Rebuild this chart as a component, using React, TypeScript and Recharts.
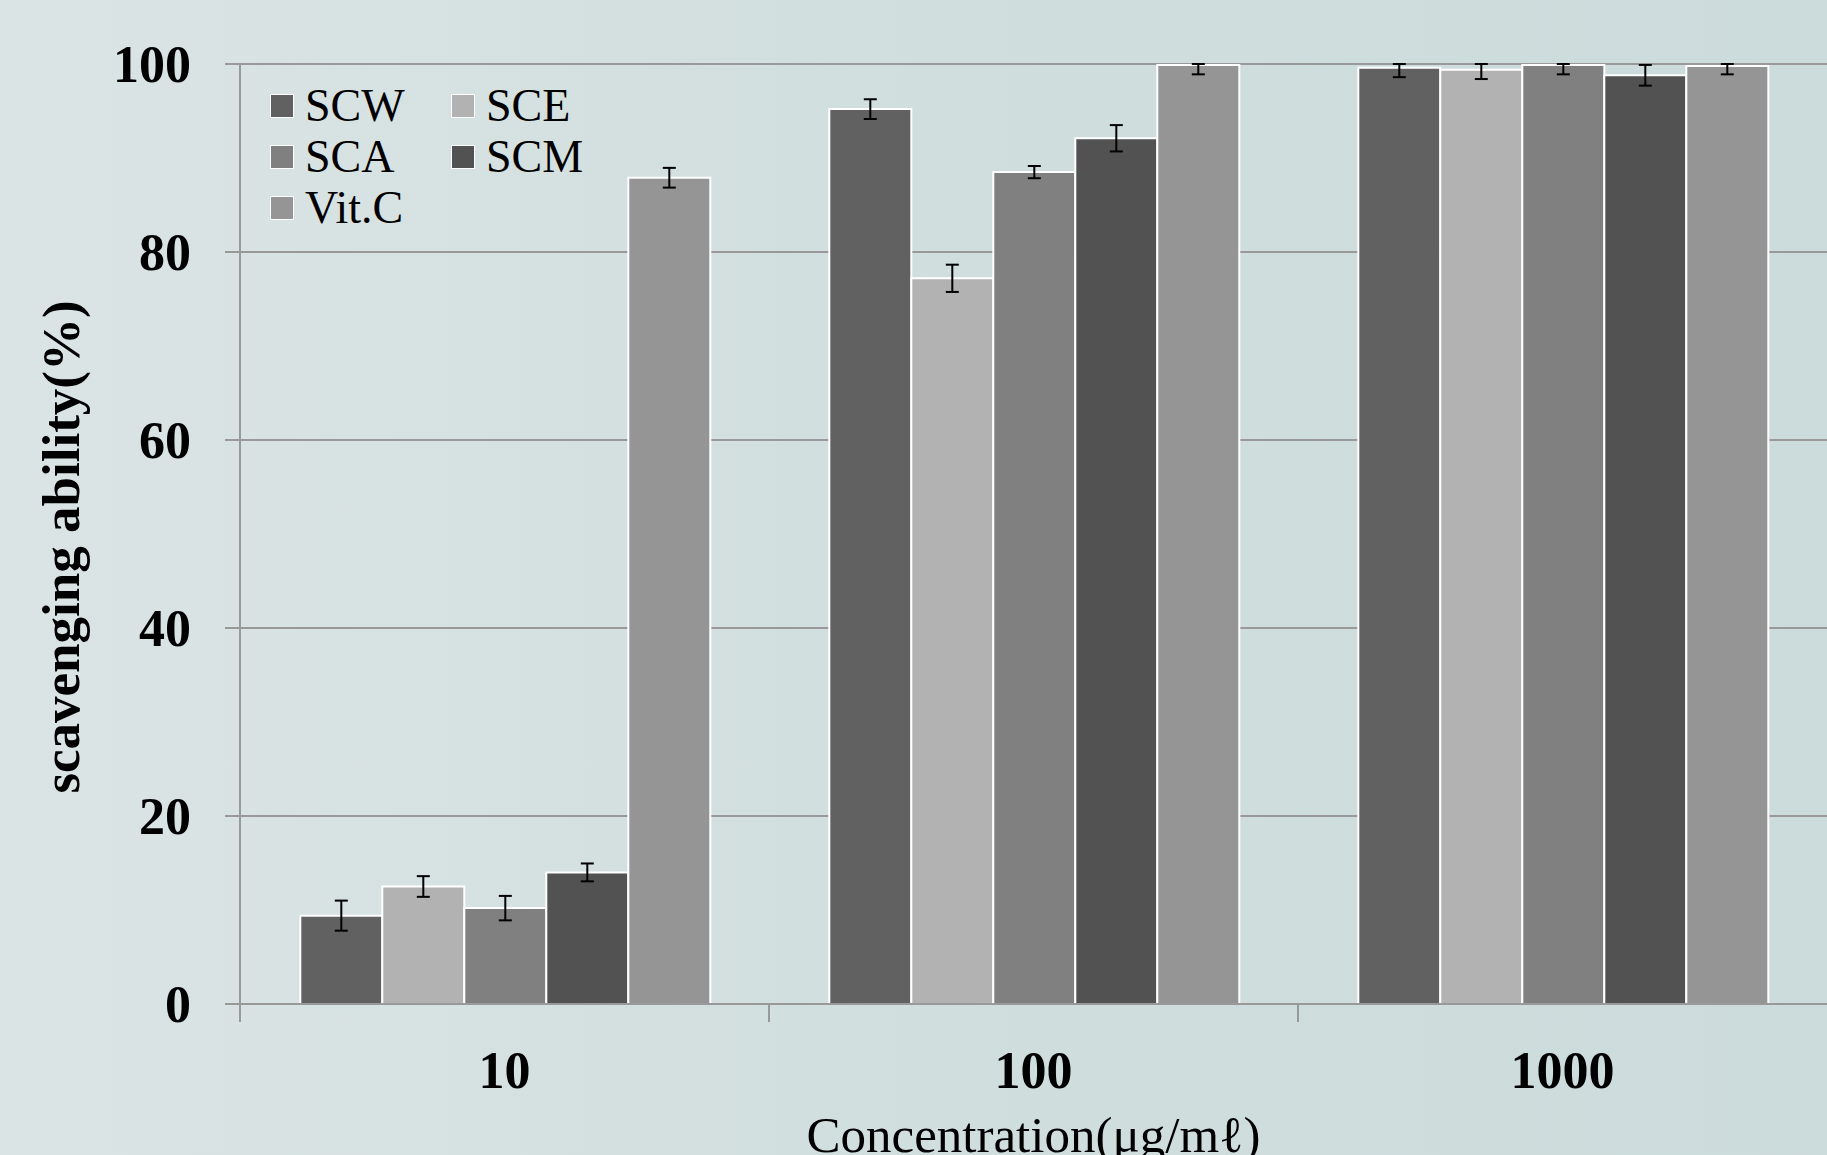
import React from 'react';
import { BarChart, Bar, XAxis, YAxis, CartesianGrid, ErrorBar, Legend, Label } from 'recharts';

const categories = ['10', '100', '1000'];
const seriesKeys = ['SCW', 'SCE', 'SCA', 'SCM', 'VitC'];
const seriesNames = ['SCW', 'SCE', 'SCA', 'SCM', 'Vit.C'];
const seriesColors = ['#616161', '#b2b2b2', '#808080', '#525252', '#959595'];

const SCW = [9.4, 95.2, 99.6];
const SCW_err = [1.6, 1.05, 1.0];
const SCE = [12.5, 77.2, 99.4];
const SCE_err = [1.1, 1.45, 1.0];
const SCA = [10.2, 88.5, 99.9];
const SCA_err = [1.3, 0.65, 1.0];
const SCM = [14.0, 92.1, 98.8];
const SCM_err = [0.95, 1.4, 1.1];
const VitC = [87.9, 99.9, 99.8];
const VitC_err = [1.05, 1.0, 0.9];

const yTicks = [0, 20, 40, 60, 80, 100];
const Y_MAX = 100;

const valuesByKey: Record<string, number[]> = { SCW, SCE, SCA, SCM, VitC };
const errsByKey: Record<string, number[]> = { SCW: SCW_err, SCE: SCE_err, SCA: SCA_err, SCM: SCM_err, VitC: VitC_err };

// error bars are cut at the top of the plot, as in the reference
const data = categories.map((c, i) => {
  const row: any = { cat: c };
  seriesKeys.forEach((k) => {
    const v = valuesByKey[k][i];
    const e = errsByKey[k][i];
    row[k] = v;
    row[`${k}_err`] = [e, Math.max(0, Math.min(e, Y_MAX - v))];
  });
  return row;
});

const FONT = '"Liberation Serif", "Times New Roman", serif';

const XTick = (props: any) => {
  const { x, y, payload } = props;
  const half = payload && payload.offset ? payload.offset : 0;
  return (
    <g>
      <line x1={x - half} y1={y} x2={x - half} y2={y + 18} stroke="#999" strokeWidth={2} />
      <text x={x} y={y + 66} dy="0.355em" textAnchor="middle" fontFamily={FONT} fontWeight="bold" fontSize={52} fill="#000">
        {payload.value}
      </text>
    </g>
  );
};

const LegendContent = () => {
  const order = [0, 1, 2, 3, 4];
  return (
    <div style={{ display: 'grid', gridTemplateColumns: '181px 160px', rowGap: 0, fontFamily: FONT, fontSize: 46, color: '#000' }}>
      {order.map((i) => (
        <div key={seriesKeys[i]} style={{ display: 'flex', alignItems: 'center', height: 51, lineHeight: '51px' }}>
          <span style={{ display: 'inline-block', width: 22, height: 22, background: seriesColors[i], border: '1.5px solid #fff', marginRight: 11 }} />
          <span>{seriesNames[i]}</span>
        </div>
      ))}
    </div>
  );
};

export default function App() {
  return (
    <div style={{ position: 'fixed', left: 0, top: 0, width: 1827, height: 1155, overflow: 'hidden', background: 'linear-gradient(90deg, #dbe4e4 0%, #d4e0e0 35%, #cfdddd 60%, #ccdbdb 100%)' }}>
      <BarChart width={1827} height={1155} data={data} margin={{ top: 64, right: 0, left: 0, bottom: 51 }} barCategoryGap="11.4%" barGap={0}>
        <CartesianGrid vertical={false} stroke="#999" strokeWidth={2} />
        <XAxis dataKey="cat" height={100} tickSize={0} tickMargin={0} tickLine={false} tick={<XTick />} axisLine={{ stroke: '#999', strokeWidth: 2 }} interval={0}>
          <Label content={(p: any) => {
            const vb = p.viewBox || {};
            const cx = (vb.x || 0) + (vb.width || 0) / 2;
            return (
              <text x={cx} y={1152} textAnchor="middle" fontFamily={FONT} fontSize={51} fill="#000">
                Concentration(μg/mℓ)
              </text>
            );
          }} />
        </XAxis>
        <YAxis width={240} domain={[0, 100]} ticks={yTicks} allowDataOverflow tickSize={15} tickMargin={34} tickLine={{ stroke: '#999', strokeWidth: 2 }} axisLine={{ stroke: '#999', strokeWidth: 2 }} tick={{ fontFamily: FONT, fontWeight: 'bold', fontSize: 52, fill: '#000' }}>
          <Label content={() => (
            <text x={61} y={547} transform="rotate(-90 61 547)" textAnchor="middle" dominantBaseline="central" fontFamily={FONT} fontWeight="bold" fontSize={53} fill="#000">
              scavenging ability(%)
            </text>
          )} />
        </YAxis>
        <Legend layout="vertical" align="center" verticalAlign="middle" content={<LegendContent />} wrapperStyle={{ position: 'absolute', left: 270, top: 80, width: 360 }} />
        {seriesKeys.map((k, i) => (
          <Bar key={k} dataKey={k} name={seriesNames[i]} fill={seriesColors[i]} stroke="#ffffff" strokeWidth={2} isAnimationActive={false}>
            <ErrorBar dataKey={`${k}_err`} width={6.5} stroke="#000" strokeWidth={2} />
          </Bar>
        ))}
      </BarChart>
    </div>
  );
}
